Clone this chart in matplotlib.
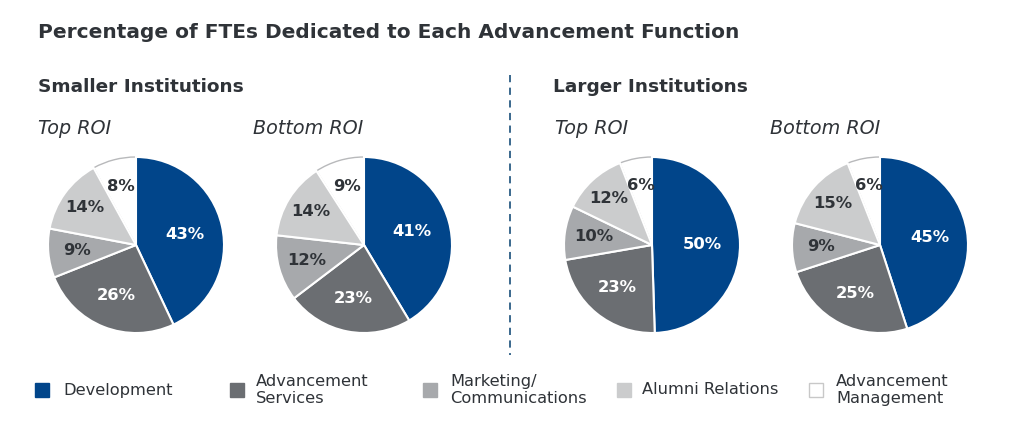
import matplotlib.pyplot as plt
from matplotlib.patches import Rectangle
from matplotlib.lines import Line2D

# categories and colours
categories = ["Development", "Advancement\nServices", "Marketing/\nCommunications",
              "Alumni Relations", "Advancement\nManagement"]
colors = ["#01458a", "#6b6e72", "#a7a9ac", "#cbcccd", "#ffffff"]

# percentages per pie
small_top = [43, 26, 9, 14, 8]
small_bottom = [41, 23, 12, 14, 9]
large_top = [50, 23, 10, 12, 6]
large_bottom = [45, 25, 9, 15, 6]

pies = [small_top, small_bottom, large_top, large_bottom]
pie_titles = ["Top ROI", "Bottom ROI", "Top ROI", "Bottom ROI"]

W, H = 1024, 434
fig = plt.figure(figsize=(W / 100, H / 100), dpi=100)
txt = "#2f3338"


def fx(x):
    return x / W


def fy(y):
    return 1 - y / H


fig.text(fx(38), fy(33), "Percentage of FTEs Dedicated to Each Advancement Function",
         fontsize=14.5, fontweight="bold", color=txt, va="center")
fig.text(fx(38), fy(87), "Smaller Institutions", fontsize=13.3, fontweight="bold",
         color=txt, va="center")
fig.text(fx(553), fy(87), "Larger Institutions", fontsize=13.3, fontweight="bold",
         color=txt, va="center")

# dashed divider
fig.add_artist(Line2D([fx(510), fx(510)], [fy(75), fy(355)], color="#2b5d85",
                      lw=1.3, ls=(0, (4, 3))))

centers = [136, 364, 652, 880]
title_x = [38, 253, 555, 770]
# label distance tweaks: big slices nearer the centre, small ones further out
dist_scale = [0.89, 0.97, 1.05, 1.12, 1.08]
R = 88
pad = 3
for vals, cx, tx, t in zip(pies, centers, title_x, pie_titles):
    fig.text(fx(tx), fy(128), t, fontsize=13.8, fontstyle="italic", color=txt,
             va="center")
    ax = fig.add_axes([fx(cx - R - pad), fy(245 + R + pad),
                       (2 * R + 2 * pad) / W, (2 * R + 2 * pad) / H])
    wedges, texts, autotexts = ax.pie(vals, colors=colors, startangle=90,
                                      counterclock=False, autopct="%d",
                                      pctdistance=0.64,
                                      wedgeprops=dict(edgecolor="white", linewidth=1.5))
    # white slice gets a thin grey rim, drawn underneath the others
    wedges[-1].set_edgecolor("#b8b9bb")
    wedges[-1].set_linewidth(1.0)
    wedges[-1].set_zorder(0)
    for i, (at, v) in enumerate(zip(autotexts, vals)):
        at.set_text(f"{v}%")
        at.set_fontsize(11.8)
        at.set_fontweight("bold")
        at.set_color("white" if i < 2 else txt)
        x, y = at.get_position()
        at.set_position((x * dist_scale[i], y * dist_scale[i]))
    lim = (R + pad) / R
    ax.set_xlim(-lim, lim)
    ax.set_ylim(-lim, lim)
    ax.set_aspect("equal")
    ax.axis("off")

# legend
leg_sq = [35, 230, 423, 617, 809]
leg_tx = [63, 256, 450, 642, 836]
for c, lab, sx, tx in zip(colors, categories, leg_sq, leg_tx):
    fig.add_artist(Rectangle((fx(sx), fy(397)), 14 / W, 14 / H, facecolor=c,
                             edgecolor="#c8c8c8" if c == "#ffffff" else c, lw=1))
    fig.text(fx(tx), fy(390), lab, fontsize=11.7, color=txt, va="center",
             linespacing=1.2)

fig.savefig("out.png", dpi=100, facecolor="white")
